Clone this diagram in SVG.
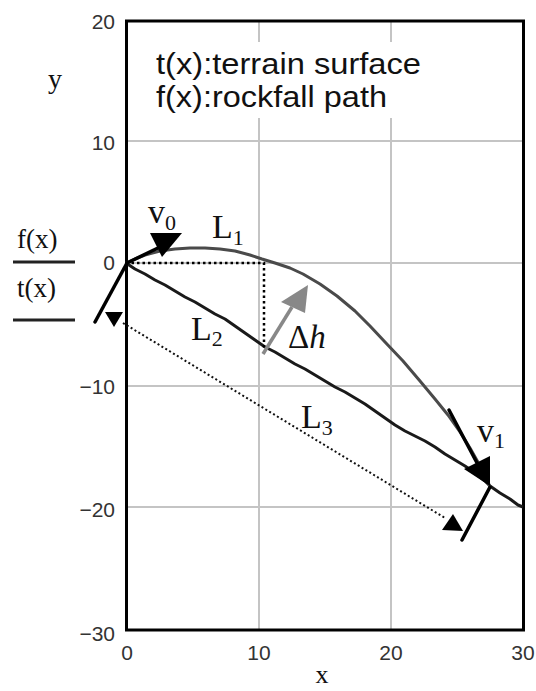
<svg xmlns="http://www.w3.org/2000/svg" width="536" height="691" viewBox="0 0 536 691">
<style>
.grid{stroke:#c4c4c4;stroke-width:2;fill:none}
.frame{stroke:#000;stroke-width:3;fill:none}
.tick{font-family:"Liberation Sans",Arial,sans-serif;font-size:21px;fill:#333}
.serif{font-family:"Liberation Serif","Times New Roman",serif;fill:#111}
.legend{font-family:"Liberation Sans",Arial,sans-serif;font-size:29px;fill:#111}
.terrain{stroke:#1a1a1a;stroke-width:3;fill:none;stroke-linejoin:round}
.path{stroke:#4a4a4a;stroke-width:3;fill:none;stroke-linejoin:round}
.vec{stroke:#000;stroke-width:3.5;fill:none;stroke-linecap:round}
.dots{stroke:#000;stroke-width:2.5;fill:none;stroke-dasharray:2.5 3}
.dots2{stroke:#111;stroke-width:2;fill:none;stroke-dasharray:2 2.5}
</style>
<rect width="536" height="691" fill="#fff"/>
<g id="grid">
<path class="grid" d="M259,21V630M391,21V630M126,141H523M126,263H523M126,386H523M126,507H523"/>
<rect x="132" y="42" width="300" height="76" fill="#fff"/>
</g>
<g id="frame">
<rect class="frame" x="126.5" y="21" width="397" height="609"/>
</g>
<g id="ticks">
<text class="tick" x="115" y="29" text-anchor="end">20</text>
<text class="tick" x="115" y="150" text-anchor="end">10</text>
<text class="tick" x="115" y="270" text-anchor="end">0</text>
<text class="tick" x="115" y="394" text-anchor="end">−10</text>
<text class="tick" x="115" y="517" text-anchor="end">−20</text>
<text class="tick" x="115" y="641" text-anchor="end">−30</text>
<text class="tick" x="127" y="660" text-anchor="middle">0</text>
<text class="tick" x="259" y="660" text-anchor="middle">10</text>
<text class="tick" x="391" y="660" text-anchor="middle">20</text>
<text class="tick" x="523" y="660" text-anchor="middle">30</text>
</g>
<g id="axis-labels">
<text class="serif" x="55" y="88" font-size="28" text-anchor="middle">y</text>
<text class="serif" x="322" y="683" font-size="26" text-anchor="middle">x</text>
<text class="serif" x="17" y="248" font-size="27">f(x)</text>
<line x1="13" y1="262" x2="75" y2="262" stroke="#222" stroke-width="3"/>
<text class="serif" x="17" y="297" font-size="27">t(x)</text>
<line x1="13" y1="320" x2="75" y2="320" stroke="#222" stroke-width="3"/>
</g>
<g id="legend">
<text class="legend" x="156" y="74" textLength="265" lengthAdjust="spacingAndGlyphs">t(x):terrain surface</text>
<text class="legend" x="156" y="107" textLength="231" lengthAdjust="spacingAndGlyphs">f(x):rockfall path</text>
</g>
<g id="connectors">
<polyline id="terrain" class="terrain" points="126,263 135,269 145,274 155,280 165,285 175,291 185,297 195,302 205,308 215,314 225,319 235,326 245,333 255,340 265,347 275,352 285,358 295,364 305,369 315,375 325,381 335,387 345,392 355,398 365,404 375,411 385,418 395,425 405,431 415,436 425,441 435,447 445,454 455,460 465,466 475,473 485,481 490,486 500,493 510,499 518,505 523,507"/>
<polyline id="rockfall" class="path" points="126,263 135,259 145,255 160,251 175,249 190,248 205,248 220,249 235,251 250,255 262,259 275,263 290,268 303,274 320,284 337,296 355,311 370,326 385,342 403,361 420,381 435,399 448,415 460,432 470,448 479,464 486,477 490,487"/>
<path class="dots" d="M126,263H264V348"/>
<path class="dots2" d="M123,323L445,518"/>
<polygon points="105,312 123,312 114,327" fill="#000"/>
<polygon points="442,530 463,531 453,514" fill="#000"/>
<line class="vec" x1="95" y1="322" x2="127" y2="263"/>
<line class="vec" x1="127" y1="263" x2="160" y2="247"/>
<polygon points="150,233 182,233 162,257" fill="#000"/>
<line class="vec" x1="449" y1="410" x2="485" y2="478"/>
<polygon points="464,469 490,456 490,486" fill="#000"/>
<line class="vec" x1="462" y1="540" x2="490" y2="487"/>
<line x1="263" y1="354" x2="292" y2="307" stroke="#888" stroke-width="3.5"/>
<polygon points="281,302 308,285 305,313" fill="#888"/>
</g>
<g id="labels">
<text class="serif" x="148" y="223" font-size="34">v<tspan font-size="22" dy="7">0</tspan></text>
<text class="serif" x="212" y="238" font-size="34">L<tspan font-size="22" dy="7">1</tspan></text>
<text class="serif" x="191" y="340" font-size="34">L<tspan font-size="22" dy="6">2</tspan></text>
<text class="serif" x="301" y="428" font-size="34">L<tspan font-size="22" dy="7">3</tspan></text>
<text class="serif" x="477" y="442" font-size="34">v<tspan font-size="22" dy="6">1</tspan></text>
<text class="serif" x="288" y="348" font-size="33" fill="#333">Δ<tspan font-style="italic">h</tspan></text>
</g>
</svg>
